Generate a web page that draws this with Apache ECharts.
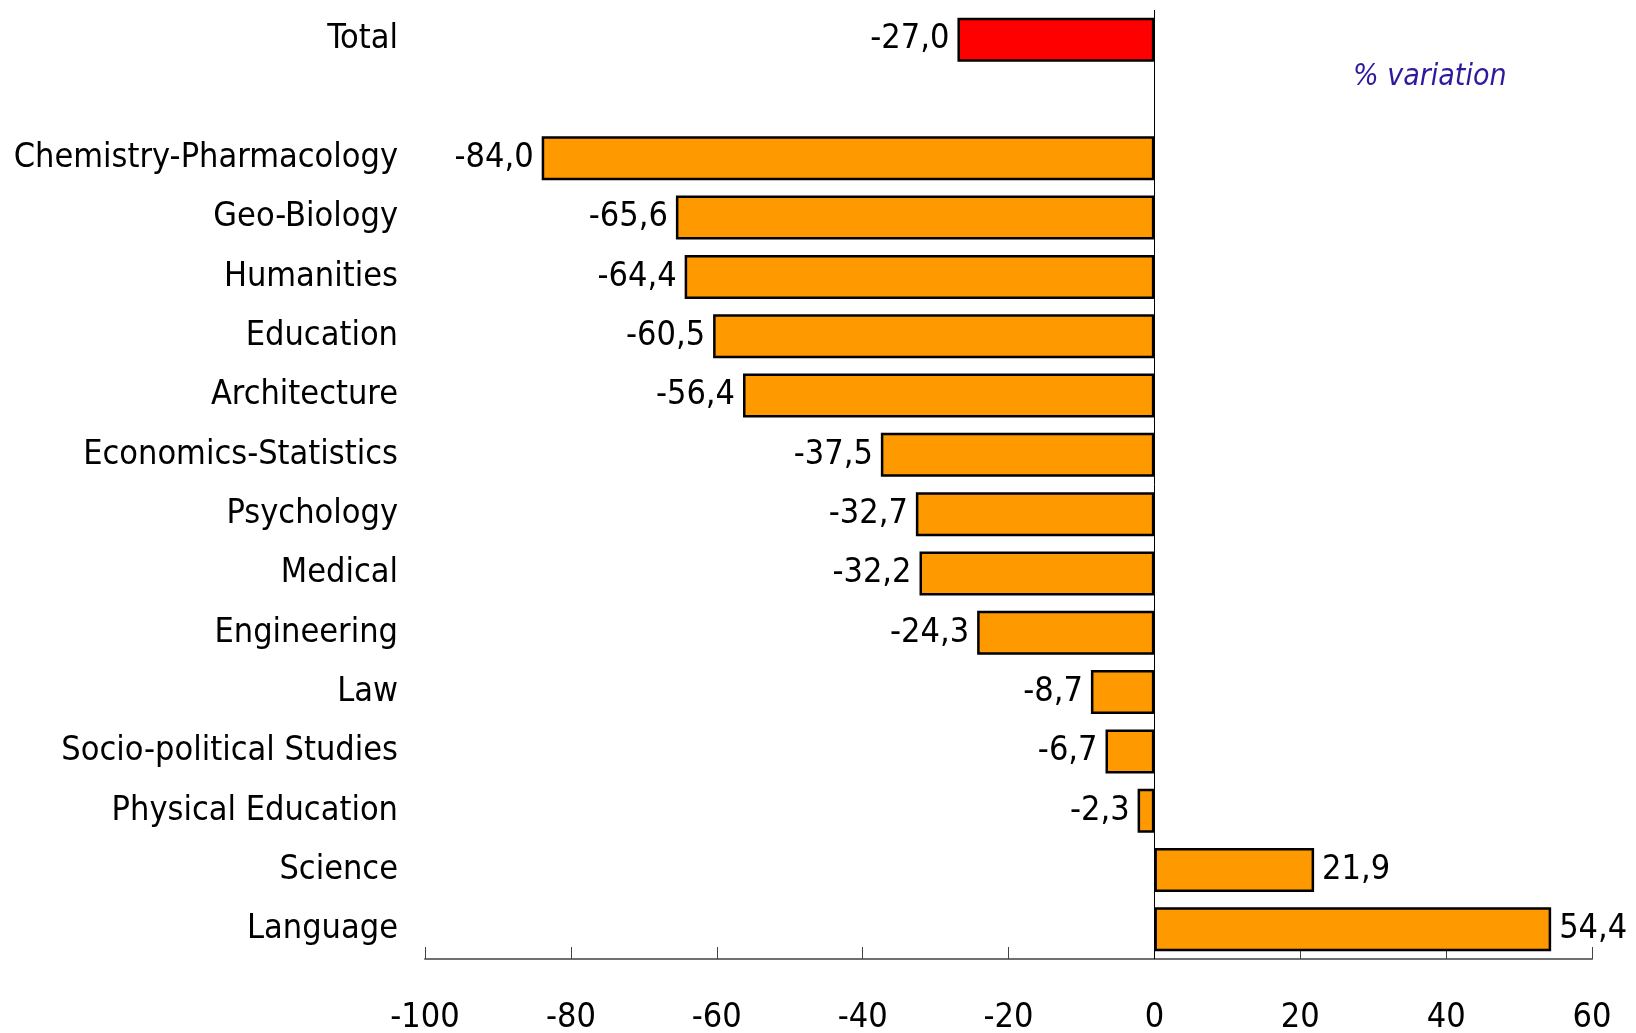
<!DOCTYPE html>
<html>
<head>
<meta charset="utf-8">
<style>
  html, body { margin: 0; padding: 0; background: #fff; }
  #chart { width: 1636px; height: 1033px; }
</style>
<script src="https://cdn.jsdelivr.net/npm/echarts@6/dist/echarts.min.js"></script>
</head>
<body>
<div id="chart"></div>
<script>
// categories, top to bottom ('' is the spacer row under Total)
const categories = [
  'Total', '',
  'Chemistry-Pharmacology', 'Geo-Biology', 'Humanities', 'Education',
  'Architecture', 'Economics-Statistics', 'Psychology', 'Medical',
  'Engineering', 'Law', 'Socio-political Studies', 'Physical Education',
  'Science', 'Language'
]
const variation = [
  -27.0, null,
  -84.0, -65.6, -64.4, -60.5,
  -56.4, -37.5, -32.7, -32.2,
  -24.3, -8.7, -6.7, -2.3,
  21.9, 54.4
]
const tickMin = -100
const tickMax = 60
const tickStep = 20

const FONT = "'DejaVu Sans Condensed', 'Liberation Sans Narrow', 'DejaVu Sans', sans-serif"

const chart = echarts.init(document.getElementById('chart'))

// Negative bars get their value on the left, positives on the right
const seriesData = variation.map(v => ({
  value: v,
  label: { position: v < 0 ? 'left' : 'right' }
}))

chart.setOption({
  animation: false,
  title: {
    text: '% variation',
    left: 1348,
    top: 57,
    textStyle: {
      fontFamily: FONT,
      fontStyle: 'italic',
      fontWeight: 'normal',
      fontSize: 30,
      color: '#2e1a9e'
    }
  },
  grid: {
    left: 425,
    right: 44,
    top: 10,
    bottom: 74,
    containLabel: false,
    outerBoundsMode: 'none'
  },
  xAxis: {
    type: 'value',
    min: tickMin,
    max: tickMax,
    interval: tickStep,
    axisLine: { show: true, onZero: false, lineStyle: { color: '#707070', width: 2 } },
    axisTick: { show: true, inside: true, length: 12, lineStyle: { color: '#444', width: 1 } },
    splitLine: { show: false },
    axisLabel: {
      margin: 42,
      fontFamily: FONT,
      fontSize: 34,
      color: '#000'
    }
  },
  yAxis: {
    type: 'category',
    data: categories,
    inverse: true,
    axisLine: { show: false },
    axisTick: { show: false },
    axisLabel: {
      margin: 27,
      fontFamily: FONT,
      fontSize: 34,
      color: '#000'
    }
  },
  series: [{
    type: 'bar',
    data: seriesData,
    barWidth: 44,
    itemStyle: {
      color: p => (p.dataIndex === 0 ? '#ff0000' : '#ff9900'),
      borderColor: '#000',
      borderWidth: 2.5
    },
    label: {
      show: true,
      distance: 8,
      fontFamily: FONT,
      fontSize: 34,
      color: '#000',
      formatter: p => p.value.toFixed(1).replace('.', ',')
    },
    markLine: {
      silent: true,
      symbol: 'none',
      label: { show: false },
      lineStyle: { color: '#000', width: 1, type: 'solid' },
      data: [{ xAxis: 0 }]
    }
  }]
})
</script>
</body>
</html>
